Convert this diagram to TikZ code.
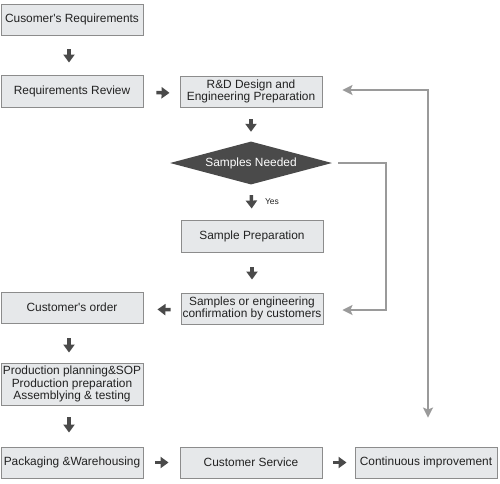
\documentclass[tikz,border=0pt]{standalone}
\usepackage{fontspec}
\setmainfont{Liberation Sans}
\usetikzlibrary{shapes.geometric,arrows.meta}
\definecolor{boxfill}{HTML}{E6E8EA}
\definecolor{boxline}{HTML}{8C8C8C}
\definecolor{darkg}{HTML}{4A4A4A}
\definecolor{lightg}{HTML}{9A9A9A}
\definecolor{txt}{HTML}{222222}
\begin{document}
\begin{tikzpicture}[x=1pt,y=-1pt,
  box/.style={draw=boxline, fill=boxfill, line width=0.9pt, minimum width=142pt, minimum height=31pt,
    inner sep=0pt, align=center, text=txt, font=\fontsize{11.9}{12.2}\selectfont},
  dia/.style={shape=diamond, fill=darkg, aspect=3.77, inner sep=0pt, minimum width=162pt,
    minimum height=43pt, text=white, font=\fontsize{11.9}{12.2}\selectfont},
  darrow/.style={draw=darkg, line width=3.5pt, -{Triangle[length=8pt,width=11pt]}},
  garrow/.style={draw=lightg, line width=2pt, -{Stealth[length=10pt,width=10pt,inset=2pt]}},
  lbl/.style={font=\fontsize{8.5}{10}\selectfont, text=txt, inner sep=0pt}
]
\useasboundingbox (0,0) rectangle (500,483);
\fill[white] (0,0) rectangle (500,483);

\node[box] (b1) at (72,19.5) {Cusomer\textquotesingle s Requirements};
\node[box, minimum height=32pt] (b2) at (72,91) {Requirements Review};
\node[box] (rd) at (251,91.5) {R\&D Design and\\Engineering Preparation};
\node[dia] (dm) at (251,163) {Samples Needed};
\node[box, minimum height=32pt] (sp) at (252,236) {Sample Preparation};
\node[box] (sc) at (252,308.5) {Samples or engineering\\confirmation by customers};
\node[box] (co) at (72,307.5) {Customer\textquotesingle s order};
\node[box, minimum height=42pt] (pp) at (72,384) {Production planning\&SOP\\Production preparation\\Assemblying \& testing};
\node[box] (pk) at (72,462.5) {Packaging \&Warehousing};
\node[box] (cs) at (251,462.5) {Customer Service};
\node[box] (ci) at (426,462.5) {Continuous improvement};
\node[lbl] (yes) at (272,202) {Yes};

\draw[darrow, shorten <=14pt, shorten >=12pt] ([xshift=-3pt]b1.south) -- ([xshift=-3pt]b2.north);
\draw[darrow, shorten <=13pt, shorten >=10pt] ([yshift=-1.5pt]b2.east) -- ([yshift=-1.5pt]rd.west);
\draw[darrow, shorten <=12pt, shorten >=9.5pt] (rd.south) -- (dm.north);
\draw[darrow, shorten <=10.5pt, shorten >=11pt] (dm.south) -- (sp.north);
\draw[darrow, shorten <=15pt, shorten >=13pt] (sp.south) -- (sc.north);
\draw[darrow, shorten <=10pt, shorten >=14pt] ([yshift=-1.5pt]sc.west) -- ([yshift=-1.5pt]co.east);
\draw[darrow, shorten <=15pt, shorten >=10pt] ([xshift=-3pt]co.south) -- ([xshift=-3pt]pp.north);
\draw[darrow, shorten <=12pt, shorten >=14pt] ([xshift=-3pt]pp.south) -- ([xshift=-3pt]pk.north);
\draw[darrow, shorten <=12pt, shorten >=11pt] (pk.east) -- (cs.west);
\draw[darrow, shorten <=11pt, shorten >=8pt] (cs.east) -- (ci.west);

\draw[garrow, shorten <=6pt, shorten >=19pt] (dm.east) -- ++(54,0) |- ([yshift=-1.5pt]sc.east);
\draw[garrow, {Stealth[length=10pt,width=10pt,inset=2pt]}-{Stealth[length=10pt,width=10pt,inset=2pt]}, shorten <=20pt, shorten >=29pt]
  ([yshift=1.5pt]rd.east) -| ([xshift=2pt]ci.north);
\end{tikzpicture}
\end{document}
